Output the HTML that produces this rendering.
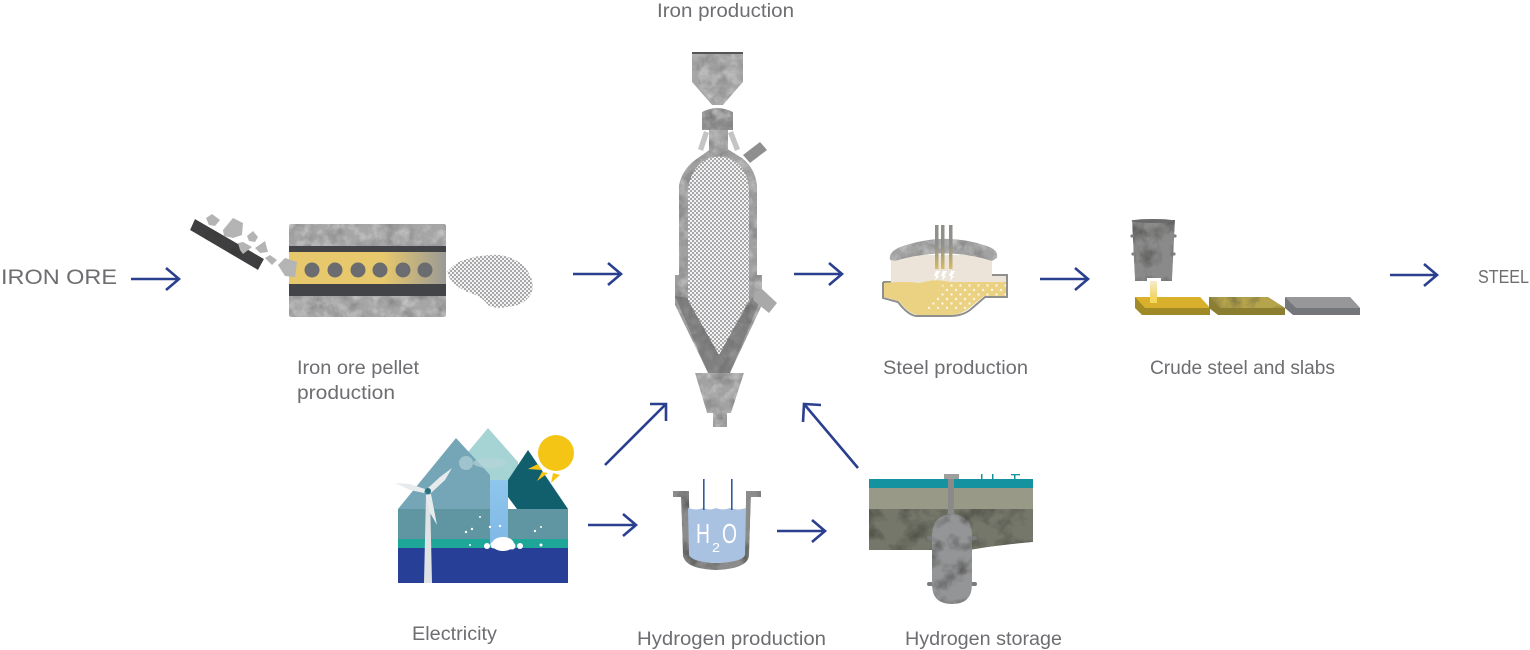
<!DOCTYPE html>
<html><head><meta charset="utf-8"><style>
html,body{margin:0;padding:0;background:#fff;width:1530px;height:650px;overflow:hidden}
svg{display:block}
text{font-family:"Liberation Sans",sans-serif;fill:#6d6e71;font-size:19px}
</style></head><body>
<svg width="1530" height="650" viewBox="0 0 1530 650" xmlns="http://www.w3.org/2000/svg">
<defs>
<filter id="tex" x="0" y="0" width="100%" height="100%" color-interpolation-filters="sRGB">
<feTurbulence type="fractalNoise" baseFrequency="0.07" numOctaves="5" seed="4" result="n"/>
<feColorMatrix in="n" type="matrix" values="0 0 0 0 0  0 0 0 0 0  0 0 0 0 0  1.6 0 0 0 -0.68" result="a"/>
<feFlood flood-color="#4a4a4c" flood-opacity=".45" result="f"/>
<feComposite in="f" in2="a" operator="in" result="d"/>
<feTurbulence type="fractalNoise" baseFrequency="0.1" numOctaves="4" seed="11" result="n2"/>
<feColorMatrix in="n2" type="matrix" values="0 0 0 0 1  0 0 0 0 1  0 0 0 0 1  .8 0 0 0 -0.34" result="b"/>
<feMerge result="m"><feMergeNode in="SourceGraphic"/><feMergeNode in="d"/><feMergeNode in="b"/></feMerge>
<feComposite in="m" in2="SourceAlpha" operator="in"/>
</filter>
<filter id="texd" x="0" y="0" width="100%" height="100%" color-interpolation-filters="sRGB">
<feTurbulence type="fractalNoise" baseFrequency="0.05" numOctaves="4" seed="7" result="n"/>
<feColorMatrix in="n" type="matrix" values="0 0 0 0 0.2  0 0 0 0 0.2  0 0 0 0 0.18  1.4 0 0 0 -0.6" result="a"/>
<feMerge result="m"><feMergeNode in="SourceGraphic"/><feMergeNode in="a"/></feMerge>
<feComposite in="m" in2="SourceAlpha" operator="in"/>
</filter>
<pattern id="st" width="4" height="4" patternUnits="userSpaceOnUse">
<rect width="4" height="4" fill="#f3f3f3"/>
<circle cx="1" cy="1" r=".85" fill="#6a6b6f"/><circle cx="3" cy="3" r=".85" fill="#6a6b6f"/>
</pattern>
<pattern id="wd" width="9" height="9" patternUnits="userSpaceOnUse">
<circle cx="2" cy="2" r="1.2" fill="#fff" opacity=".75"/><circle cx="6.5" cy="6.5" r="1.2" fill="#fff" opacity=".75"/>
</pattern>
<linearGradient id="yg" x1="0" x2="1" y1="0" y2="0"><stop offset=".6" stop-color="#e8c86c"/><stop offset="1" stop-color="#9a9a96"/></linearGradient>
<linearGradient id="el" x1="0" x2="0" y1="0" y2="1"><stop offset=".45" stop-color="#8f8f8c"/><stop offset="1" stop-color="#d8bd62"/></linearGradient>
<linearGradient id="str" x1="0" x2="0" y1="0" y2="1"><stop offset="0" stop-color="#f5eccb"/><stop offset="1" stop-color="#f2cf55"/></linearGradient>
<linearGradient id="wf" x1="0" x2="0" y1="0" y2="1"><stop offset="0" stop-color="#8fc6ec"/><stop offset="1" stop-color="#7fb8e6"/></linearGradient>
</defs>

<!-- Pellet -->
<polygon points="195,219 264,259 258,270 190,230" fill="#3f3f41" filter="url(#texd)"/>
<g fill="#b4b4b4">
<polygon points="206,218 212,214 220,220 215,226 209,225"/>
<polygon points="223,230 233,218 243,223 242,235 233,238 224,236"/>
<polygon points="247,236 253,231 258,237 255,242 249,241"/>
<polygon points="238,243 243,242 252,247 243,254 240,250"/>
<polygon points="255,248 265,241 268,252 260,253"/>
<polygon points="265,258 270,255 277,260 272,265"/>
</g>
<rect x="289" y="224" width="157" height="93" rx="2" fill="#a6a6a6" filter="url(#tex)"/>
<rect x="289" y="246" width="157" height="7" fill="#434447"/>
<rect x="289" y="252" width="157" height="32" fill="url(#yg)"/>
<rect x="289" y="284" width="157" height="12" fill="#434447"/>
<polygon points="278,265 285,258 297,262 295,277 285,276" fill="#b4b4b4"/>
<g fill="#6b6c70"><circle cx="312" cy="270" r="7.5"/><circle cx="335" cy="270" r="7.5"/><circle cx="358" cy="270" r="7.5"/><circle cx="380" cy="270" r="7.5"/><circle cx="403" cy="270" r="7.5"/><circle cx="425" cy="270" r="7.5"/></g>
<path d="M447,272 Q452,265 461,261 Q480,254 500,255 Q518,258 527,270 Q536,283 531,294 Q524,306 507,307 Q494,309 488,305 Q482,296 465,291 Q450,283 447,272Z" fill="url(#st)"/>

<!-- Furnace -->
<polygon points="692,53 743,53 743,82 723,105 712,105 692,82" fill="#a6a6a6" filter="url(#tex)"/>
<rect x="692" y="52" width="51" height="2" fill="#555"/>
<path d="M702,112 Q717,104 733,112 V130 H702Z" fill="#8f8f8f" filter="url(#tex)"/>
<rect x="709" y="130" width="19" height="24" fill="#a4a4a4" filter="url(#tex)"/>
<polygon points="704,131 709,133 703,151 698,149" fill="#c4c4c4"/>
<polygon points="728,133 733,131 740,149 735,151" fill="#c4c4c4"/>
<path d="M679,185 Q682,170 695,160 L712,148 H726 L742,158 Q755,168 757,185 V275 H762 V305 L730,373 H708 L675,305 V275 H679Z" fill="#a0a0a0" filter="url(#tex)"/>
<polygon points="743,155 760,142 767,150 750,163" fill="#8f8f8f"/>
<polygon points="675,296 688,298 719,352 752,298 762,296 730,373 708,373" fill="#5e5e5e" opacity=".5"/>
<path d="M688,190 Q690,170 705,160 Q719,153 733,160 Q748,170 749,190 V300 L719,355 L688,300Z" fill="url(#st)"/>
<polygon points="755,292 762,289 777,303 769,313 753,300" fill="#a9a9a9"/>
<polygon points="695,373 744,373 731,413 727,413 727,427 713,427 713,413 707,413" fill="#a2a2a2" filter="url(#tex)"/>

<!-- Steel -->
<path d="M891,283 V255 H992 V283Z" fill="#ece4d9"/>
<path d="M883,282 H891 M992,275 H1007 V297 H985 L970,310 Q962,316 950,316 H916 Q908,315 898,302 L883,298 V282" fill="none" stroke="#8f8f8c" stroke-width="2"/>
<rect x="992" y="276" width="14" height="8" fill="#ece4d9"/>
<path d="M884,283 Q905,281 920,283 Q935,278 950,282 H1006 V296 H984 L968,309 Q960,315 950,315 H917 Q908,313 899,301 L884,297Z" fill="#ebd283"/>
<path d="M945,282 H1006 V296 H984 L968,309 H925 Z" fill="url(#wd)"/>
<path d="M890,260 Q888,252 900,247 Q945,231 987,246 Q999,250 997,258 L992,261 Q945,246 895,261Z" fill="#a2a2a2" filter="url(#tex)"/>
<g fill="url(#el)"><rect x="935" y="225" width="3.5" height="44"/><rect x="941" y="225" width="3.5" height="44"/><rect x="949" y="225" width="3.5" height="44"/></g>
<g fill="#fff"><polygon points="936,271 940,271 937,276 939,276 935,281 936,276 934,276"/><polygon points="943,271 947,271 944,276 946,276 942,281 943,276 941,276"/><polygon points="951,271 955,271 952,276 954,276 950,281 951,276 949,276"/></g>

<!-- Ladle and slabs -->
<polygon points="1150,281 1157,281 1157,300 1150,300" fill="url(#str)"/>
<polygon points="1132,220 1175,220 1172,281 1161,281 1161,278 1147,278 1147,281 1135,281" fill="#8a8a8a" filter="url(#texd)"/>
<ellipse cx="1153" cy="221" rx="21.5" ry="2" fill="#6a6a6c"/>
<g fill="#808080"><circle cx="1132" cy="236" r="1.6"/><circle cx="1175" cy="236" r="1.6"/><circle cx="1133" cy="254" r="1.6"/><circle cx="1174" cy="254" r="1.6"/></g>
<polygon points="1135,297 1200,297 1210,308 1210,315 1142,315 1135,308" fill="#a08a28"/>
<polygon points="1135,297 1200,297 1210,308 1145,308" fill="#d8b02c"/>
<rect x="1150" y="297" width="7" height="6" fill="#f4d75d"/>
<polygon points="1209,297 1268,297 1285,308 1285,315 1218,315 1209,308" fill="#8c7e30"/>
<polygon points="1209,297 1268,297 1285,308 1220,308" fill="#b5a44c" filter="url(#texd)"/>
<polygon points="1285,297 1350,297 1360,308 1360,315 1293,315 1285,308" fill="#75767b"/>
<polygon points="1285,297 1350,297 1360,308 1296,308" fill="#97979a"/>

<!-- Electricity -->
<polygon points="468,452 488,428 518,462 518,490 490,490" fill="#a6d4d4"/>
<polygon points="398,509 456,438 490,475 490,509" fill="#75a6b7"/>
<polygon points="508,480 528,450 568,509 517,509 508,497" fill="#115f6d"/>
<g fill="#b6d5da" opacity=".65"><circle cx="466" cy="463" r="7"/><ellipse cx="490" cy="463" rx="17" ry="5"/></g>
<rect x="398" y="509" width="170" height="30" fill="#5f96a1"/>
<rect x="398" y="539" width="170" height="9" fill="#1ea698"/>
<rect x="398" y="548" width="170" height="35" fill="#273f96"/>
<rect x="490" y="480" width="18" height="65" fill="url(#wf)"/>
<g fill="#fff"><ellipse cx="503" cy="544" rx="11" ry="7"/><circle cx="487" cy="546" r="3"/><circle cx="494" cy="545" r="3.5"/><circle cx="512" cy="546" r="3.5"/><circle cx="520" cy="546" r="3"/>
<circle cx="466" cy="532" r="1.2"/><circle cx="472" cy="529" r="1.2"/><circle cx="480" cy="517" r="1"/><circle cx="490" cy="527" r="1.2"/><circle cx="500" cy="526" r="1.2"/><circle cx="535" cy="531" r="1.2"/><circle cx="541" cy="527" r="1"/><circle cx="541" cy="545" r="1.5"/><circle cx="470" cy="545" r="1"/></g>
<circle cx="556" cy="453" r="18" fill="#f4c514"/>
<g fill="#f4c514"><polygon points="528,469 538,464 542,470"/><polygon points="537,481 542,472 548,473"/><polygon points="551,483 553,473 560,475"/></g>
<polygon points="426,495 430,495 432,583 424,583" fill="#dfe3e6"/>
<polygon points="395,483 410,484 425,489 424,493 410,490" fill="#e8ebee"/>
<polygon points="452,468 445,480 431,493 428,488 440,477" fill="#e8ebee"/>
<polygon points="426,495 431,494 437,525 429,511" fill="#e8ebee"/>
<circle cx="428" cy="491" r="3" fill="#2a6f7d"/>

<!-- H2O -->
<path d="M673,491 H689 V500 L691,552 Q693,562 716,563 Q742,562 744,552 L746,500 V491 H761 V497 H751 L749,556 Q747,569 716,570 Q686,569 683,556 L681,497 H673Z" fill="#8c8c8c" filter="url(#texd)"/>
<path d="M688,508 Q696,511 703,508 Q710,511 716,508 Q723,511 730,508 Q738,511 746,508 L745,555 Q743,562 716,563 Q692,562 689,555Z" fill="#a9c2e2"/>
<rect x="703" y="479" width="1.6" height="31" fill="#2f5a9c"/>
<rect x="731" y="479" width="1.6" height="31" fill="#2f5a9c"/>
<text x="696" y="543" textLength="14" lengthAdjust="spacingAndGlyphs" style="font-size:28px;fill:#fff">H</text>
<text x="712" y="552" textLength="8" lengthAdjust="spacingAndGlyphs" style="font-size:13px;fill:#fff">2</text>
<text x="722" y="543" textLength="15" lengthAdjust="spacingAndGlyphs" style="font-size:28px;fill:#fff">O</text>

<!-- Storage -->
<rect x="869" y="479" width="164" height="9" fill="#15929f"/>
<rect x="869" y="488" width="164" height="21" fill="#989a87"/>
<path d="M869,509 H1033 V542 Q990,546 970,550 H869Z" fill="#75776a" filter="url(#texd)"/>
<rect x="948" y="476" width="6" height="38" fill="#8a8a88"/>
<rect x="944" y="474" width="15" height="5" fill="#9e9e9c"/>
<g fill="#15929f"><rect x="981" y="474" width="1.5" height="5"/><rect x="992" y="474" width="1.5" height="5"/><rect x="1014" y="474" width="1.5" height="5"/><rect x="1011" y="474" width="9" height="1.3"/></g>
<g fill="#7a7a7a"><rect x="927" y="536" width="6" height="4" rx="2"/><rect x="971" y="536" width="6" height="4" rx="2"/><rect x="927" y="582" width="6" height="4" rx="2"/><rect x="971" y="582" width="6" height="4" rx="2"/></g>
<path d="M932,535 Q932,515 952,514 Q972,515 972,535 V585 Q972,604 952,604 Q932,604 932,585Z" fill="#949597" filter="url(#texd)"/>

<!-- Arrows -->
<g fill="none" stroke="#2b3f8f" stroke-width="2.6">
<path d="M131,279 H179 M166,268 L179,279 L166,290" />
<path d="M573,274 H621 M608,263 L621,274 L608,285" />
<path d="M794,274 H842 M829,263 L842,274 L829,285" />
<path d="M1040,279 H1088 M1075,268 L1088,279 L1075,290" />
<path d="M1390,275 H1437 M1424,264 L1437,275 L1424,286" />
<path d="M588,525 H636 M623,514 L636,525 L623,536" />
<path d="M777,531 H825 M812,520 L825,531 L812,542" />
<path d="M605,465 L666,404 M650,404 H666 V421" />
<path d="M858,468 L804,404 M821,405 L804,404 L803,422" />
</g>

<!-- Labels -->
<text x="657" y="17" textLength="137" lengthAdjust="spacingAndGlyphs">Iron production</text>
<text x="1" y="284" textLength="116" lengthAdjust="spacingAndGlyphs" style="font-size:21px">IRON ORE</text>
<text x="1478" y="283" textLength="51" lengthAdjust="spacingAndGlyphs" style="font-size:18px">STEEL</text>
<text x="297" y="374" textLength="122" lengthAdjust="spacingAndGlyphs">Iron ore pellet</text>
<text x="297" y="399" textLength="98" lengthAdjust="spacingAndGlyphs">production</text>
<text x="883" y="374" textLength="145" lengthAdjust="spacingAndGlyphs">Steel production</text>
<text x="1150" y="374" textLength="185" lengthAdjust="spacingAndGlyphs">Crude steel and slabs</text>
<text x="412" y="640" textLength="85" lengthAdjust="spacingAndGlyphs">Electricity</text>
<text x="637" y="645" textLength="189" lengthAdjust="spacingAndGlyphs">Hydrogen production</text>
<text x="905" y="645" textLength="157" lengthAdjust="spacingAndGlyphs">Hydrogen storage</text>
</svg>
</body></html>
